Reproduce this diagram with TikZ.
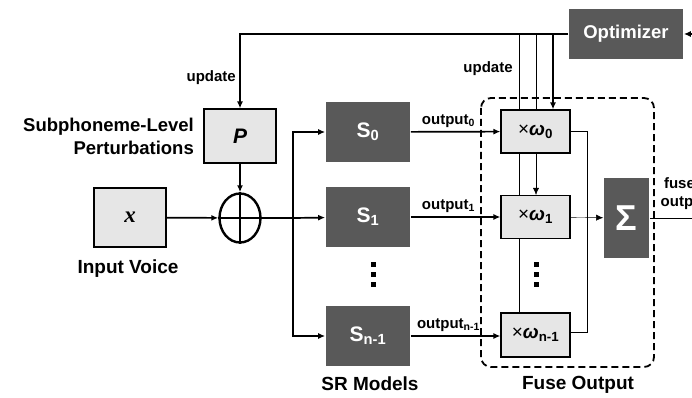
\documentclass[tikz,border=0pt]{standalone}
\usepackage{fontspec}
\setmainfont{Liberation Sans}
\newfontfamily\serifbi{Liberation Serif}
\usepackage{tikz}
\usetikzlibrary{positioning,calc,shapes,arrows.meta,backgrounds}
\definecolor{boxdark}{HTML}{595959}
\definecolor{boxlight}{HTML}{E6E6E6}

\begin{document}
\begin{tikzpicture}[x=1pt, y=-1pt, >={Latex[length=7pt,width=6pt]}, line width=1.7pt,
darknode/.style={rectangle, draw=none, fill=boxdark, text=white, inner sep=0pt, font=\fontsize{21}{24}\selectfont\bfseries},
lightnode/.style={rectangle, draw=black, fill=boxlight, line width=1.2pt, inner sep=0pt, minimum width=69pt, minimum height=43pt, font=\fontsize{19}{22}\selectfont},
biglabel/.style={font=\fontsize{19}{22}\selectfont\bfseries},
smalllabel/.style={font=\fontsize{15}{18}\selectfont\bfseries},
]
\useasboundingbox (0,0) rectangle (692,398);

%Nodes
\node[darknode, minimum width=114pt, minimum height=50pt, font=\fontsize{18.5}{22}\selectfont\bfseries] (optimizer) at (626,34) {Optimizer};
\node[lightnode, minimum width=72pt, minimum height=54pt, font=\fontsize{21}{24}\selectfont\bfseries\itshape] (pert) at (240,136) {P};
\node[lightnode, minimum width=72pt, minimum height=59pt, font=\fontsize{23}{24}\selectfont\serifbi\bfseries\itshape] (voice) at (130,217.5) {x};
\node[draw, ellipse, line width=2.4pt, minimum width=41pt, minimum height=49pt, inner sep=0pt] (plus) at (240,218) {};
\node[darknode, minimum width=84pt, minimum height=60pt] (s0) at (368,132) {S\textsubscript{0}};
\node[darknode, minimum width=84pt, minimum height=60pt] (s1) at (368,217) {S\textsubscript{1}};
\node[darknode, minimum width=84pt, minimum height=60pt] (sn) at (368,336) {S\textsubscript{n-1}};
\node[lightnode] (w0) at (535.5,131.5) {×\textbf{\textit{ω}}\textsubscript{\textbf{0}}};
\node[lightnode] (w1) at (535.5,217) {×\textbf{\textit{ω}}\textsubscript{\textbf{1}}};
\node[lightnode, minimum height=44pt] (wn) at (535.5,335) {×\textbf{\textit{ω}}\textsubscript{\textbf{n-1}}};
\node[darknode, minimum width=45pt, minimum height=80pt, font=\fontsize{36}{38}\selectfont\bfseries] (sum) at (626.5,218) {Σ};

%Labels
\node[biglabel, align=right, anchor=east, font=\fontsize{18.5}{23}\selectfont\bfseries] (pertlabel) at (198,136) {Subphoneme-Level\\Perturbations};
\node[biglabel] (voicelabel) at (128,269) {Input Voice};
\node[biglabel] (srlabel) at (370,384) {SR Models};
\node[biglabel] (fuselabel) at (578,385) {Fuse Output};
\node[smalllabel] (update) at (488,69) {update};
\node[smalllabel, align=center] (fused) at (684,194) {fused\\output};

%Coordinates
\coordinate (branch) at (293,218);
\coordinate (ta) at (519,34);
\coordinate (tb) at (536,34);
\coordinate (tc) at (553,34);
\coordinate (rc) at (587,332);
\coordinate (inright) at (700,34);
\coordinate (outright) at (700,218);

%Lines
\draw[line width=2.4pt] (plus.north) -- (plus.south);
\draw[line width=2.4pt] (plus.west) -- (plus.east);
\draw[->] (voice) -- (plus);
\draw[->] (pert) -- (plus);
\draw (plus) -- (branch);
\draw[->] (branch) |- (s0);
\draw[->] (branch) -- (s1);
\draw[->] (branch) |- (sn);
\draw[->] (s0) -- node[smalllabel, above, pos=0.42] {output\textsubscript{0}} (w0);
\draw[->] (s1) -- node[smalllabel, above, pos=0.42] {output\textsubscript{1}} (w1);
\draw[->] (sn.east) -- node[smalllabel, above, pos=0.42] {output\textsubscript{n-1}} (sn.east -| w0.west);
\draw[->] (optimizer.west) -| node[smalllabel, left, pos=0.79] {update} (pert.north);
\draw[->] (inright) -- (optimizer.east);
\draw[->] (tc) -- (tc |- w0.north);
\begin{pgfonlayer}{background}
\draw[->] (tb) -- (tb |- w1.north);
\draw (ta) -- (ta |- wn.north);
\end{pgfonlayer}
\draw (w0.east) -| (rc) -- (rc -| wn.east);
\draw[->] (w1) -- (sum);
\draw (sum) -- (outright);
\draw[dash pattern=on 7pt off 4pt, line width=1.8pt, rounded corners=10pt] (481,98) rectangle (654,367);

%Dots
\foreach \y in {262,272,282} {
  \fill (371,\y) rectangle ++(5,5);
  \fill (534,\y) rectangle ++(5,5);
}
\end{tikzpicture}
\end{document}
